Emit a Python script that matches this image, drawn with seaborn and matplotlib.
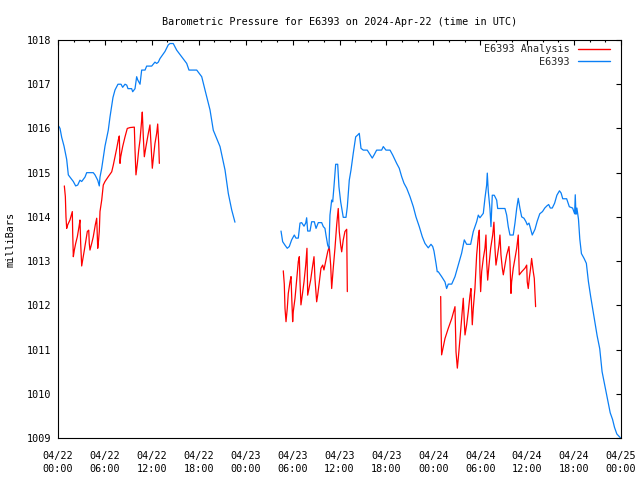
import numpy as np
import pandas as pd
import matplotlib
matplotlib.use("Agg")
import matplotlib.pyplot as plt
import matplotlib.dates as mdates
import seaborn as sns

# ------------------------------------------------------------
# data: hours since 2024-04-22 00:00 UTC, pressure in mb
# ------------------------------------------------------------
obs1_h = [0.1, 0.26, 0.47, 0.77, 1.11, 1.32, 1.53, 1.96, 2.26, 2.52, 2.81, 3.03, 3.45, 3.67,
          4.51, 4.73, 5.08, 5.28, 5.37, 5.59, 6.01, 6.43, 6.65, 7.03, 7.29, 7.67, 8.06, 8.27,
          8.57, 8.79, 8.95, 9.42, 9.55, 9.85, 10.06, 10.19, 10.49, 10.7, 11.13, 11.34, 11.98,
          12.4, 12.62, 12.83, 13.04, 13.68, 14.1, 14.32, 14.74, 15.18, 15.82, 16.46, 16.75,
          17.74, 18.38, 18.8, 19.44, 19.86, 20.72, 21.36, 21.78, 22.21, 22.63]
obs1_p = [1016.05, 1016.0, 1015.8, 1015.6, 1015.3, 1014.95, 1014.9, 1014.8, 1014.7, 1014.72,
          1014.83, 1014.8, 1014.9, 1015.0, 1015.0, 1014.95, 1014.83, 1014.7, 1014.9, 1015.1,
          1015.6, 1015.96, 1016.26, 1016.7, 1016.87, 1017.0, 1017.0, 1016.93, 1017.0, 1016.98,
          1016.9, 1016.9, 1016.83, 1016.9, 1017.17, 1017.1, 1017.0, 1017.32, 1017.32, 1017.41,
          1017.41, 1017.5, 1017.47, 1017.5, 1017.58, 1017.74, 1017.89, 1017.92, 1017.92,
          1017.77, 1017.62, 1017.47, 1017.32, 1017.32, 1017.17, 1016.87, 1016.42, 1015.96,
          1015.59, 1015.06, 1014.53, 1014.16, 1013.88]

obs2_h = [28.52, 28.73, 29.03, 29.32, 29.58, 29.88, 30.22, 30.43, 30.73, 30.95, 31.16, 31.46,
          31.68, 31.8, 31.93, 32.23, 32.44, 32.78, 33.0, 33.29, 33.72, 33.93, 34.14, 34.27,
          34.49, 34.65, 34.78, 35.0, 35.13, 35.29, 35.51, 35.77, 35.93, 36.15, 36.48, 36.83,
          37.0, 37.25, 37.47, 37.76, 38.07, 38.32, 38.53, 38.75, 39.04, 39.55, 39.9, 40.19,
          40.45, 40.75, 41.39, 41.6, 41.94, 42.46, 42.8, 43.09, 43.31, 43.64, 43.95, 44.25,
          44.59, 45.01, 45.44, 45.78, 46.2, 46.59, 46.93, 47.35, 47.7, 47.92, 48.08, 48.34,
          48.5, 48.63, 49.06, 49.49, 49.7, 49.91, 50.35, 50.77, 51.19, 51.62, 51.96, 52.26,
          52.77, 53.11, 53.54, 53.75, 53.96, 54.39, 54.6, 54.82, 54.9, 55.03, 55.24, 55.37,
          55.54, 55.79, 56.1, 56.23, 57.16, 57.38, 57.58, 57.8, 58.22, 58.44, 58.66, 58.86,
          59.08, 59.3, 59.59, 59.85, 60.01, 60.23, 60.36, 60.65, 61.0, 61.28, 61.61, 61.96,
          62.25, 62.53, 62.75, 62.96, 63.21, 63.51, 63.8, 64.13, 64.34, 64.55, 65.05, 65.39,
          65.81, 66.07, 66.15, 66.24, 66.36, 66.56, 66.73, 66.94, 67.28, 67.57, 67.83, 68.12,
          68.53, 68.95, 69.28, 69.58, 69.92, 70.33, 70.62, 70.92, 71.17, 71.47, 71.68, 71.95]
obs2_p = [1013.68, 1013.44, 1013.36, 1013.29, 1013.33, 1013.48, 1013.59, 1013.52, 1013.52,
          1013.86, 1013.87, 1013.79, 1013.86, 1013.98, 1013.68, 1013.68, 1013.89, 1013.89,
          1013.74, 1013.87, 1013.87, 1013.78, 1013.74, 1013.59, 1013.36, 1013.29, 1014.04,
          1014.38, 1014.34, 1014.68, 1015.19, 1015.19, 1014.68, 1014.34, 1013.99, 1013.99,
          1014.23, 1014.83, 1015.06, 1015.44, 1015.81, 1015.85, 1015.89, 1015.55, 1015.51,
          1015.51, 1015.41, 1015.33, 1015.41, 1015.51, 1015.51, 1015.59, 1015.51, 1015.51,
          1015.4, 1015.29, 1015.21, 1015.1, 1014.91, 1014.76, 1014.65, 1014.46, 1014.23,
          1014.0, 1013.78, 1013.55, 1013.4, 1013.3, 1013.38, 1013.33, 1013.23, 1012.95,
          1012.76, 1012.76, 1012.65, 1012.53, 1012.38, 1012.48, 1012.48, 1012.65, 1012.91,
          1013.18, 1013.48, 1013.38, 1013.38, 1013.67, 1013.89, 1014.04, 1013.98, 1014.08,
          1014.42, 1014.72, 1014.99, 1014.57, 1014.19, 1013.78, 1014.49, 1014.49, 1014.38,
          1014.19, 1014.19, 1014.04, 1013.78, 1013.59, 1013.59, 1013.86, 1014.19, 1014.42,
          1014.19, 1014.0, 1013.97, 1013.89, 1013.82, 1013.86, 1013.78, 1013.59, 1013.72,
          1013.9, 1014.07, 1014.12, 1014.2, 1014.25, 1014.28, 1014.2, 1014.2, 1014.31,
          1014.49, 1014.59, 1014.54, 1014.41, 1014.41, 1014.23, 1014.2, 1014.07, 1014.5,
          1014.06, 1014.2, 1013.95, 1013.5, 1013.17, 1013.06, 1012.95, 1012.54, 1012.2,
          1011.76, 1011.31, 1011.02, 1010.5, 1010.2, 1009.83, 1009.57, 1009.42, 1009.24,
          1009.09, 1009.05, 1009.0]

ana1_h = [0.81, 0.94, 1.02, 1.11, 1.24, 1.53, 1.83, 1.88, 1.96, 2.09, 2.26, 2.47, 2.69, 2.81,
          2.9, 3.03, 3.16, 3.37, 3.58, 3.75, 3.93, 4.0, 4.09, 4.31, 4.51, 4.77, 4.95, 5.08,
          5.15, 5.28, 5.37, 5.59, 5.79, 6.01, 6.43, 6.87, 7.07, 7.29, 7.51, 7.71, 7.84, 7.93,
          8.02, 8.27, 8.57, 8.86, 9.21, 9.76, 9.85, 9.97, 10.15, 10.32, 10.49, 10.7, 10.78,
          10.91, 11.04, 11.25, 11.55, 11.76, 11.89, 12.06, 12.19, 12.4, 12.62, 12.75, 12.88,
          12.96]
ana1_p = [1014.7, 1014.46, 1014.0, 1013.74, 1013.82, 1013.93, 1014.12, 1013.63, 1013.1,
          1013.25, 1013.4, 1013.55, 1013.78, 1013.93, 1013.4, 1012.89, 1013.03, 1013.25,
          1013.48, 1013.67, 1013.7, 1013.4, 1013.25, 1013.4, 1013.55, 1013.82, 1013.97,
          1013.29, 1013.4, 1013.67, 1014.12, 1014.38, 1014.72, 1014.8, 1014.91, 1015.02,
          1015.17, 1015.36, 1015.55, 1015.74, 1015.83, 1015.21, 1015.36, 1015.59, 1015.81,
          1016.0, 1016.02, 1016.03, 1015.51, 1014.95, 1015.21, 1015.51, 1015.74, 1016.19,
          1016.37, 1015.81, 1015.36, 1015.59, 1015.89, 1016.08, 1015.66, 1015.1, 1015.32,
          1015.66, 1015.89, 1016.1, 1015.66, 1015.21]

ana2_h = [28.81, 28.94, 29.03, 29.16, 29.32, 29.45, 29.67, 29.8, 29.88, 30.01, 30.09, 30.31,
          30.52, 30.73, 30.86, 30.95, 31.07, 31.24, 31.46, 31.68, 31.84, 31.93, 32.1, 32.31,
          32.52, 32.74, 32.86, 33.08, 33.21, 33.42, 33.63, 33.85, 34.01, 34.23, 34.49, 34.69,
          34.87, 35.0, 35.2, 35.42, 35.64, 35.84, 35.97, 36.15, 36.28, 36.48, 36.7, 36.92, 37.0]
ana2_p = [1012.78, 1012.48, 1011.93, 1011.63, 1011.93, 1012.27, 1012.53, 1012.65, 1012.23,
          1011.63, 1011.86, 1012.16, 1012.57, 1012.99, 1013.1, 1012.53, 1012.01, 1012.23,
          1012.53, 1012.91, 1013.29, 1012.23, 1012.38, 1012.57, 1012.84, 1013.1, 1012.61,
          1012.08, 1012.23, 1012.53, 1012.84, 1012.91, 1012.8, 1012.99, 1013.21, 1013.33,
          1012.91, 1012.38, 1012.84, 1013.29, 1013.82, 1014.19, 1013.67, 1013.36, 1013.21,
          1013.48, 1013.67, 1013.72, 1012.31]

ana3_h = [48.94, 48.98, 49.06, 49.27, 49.49, 49.91, 50.35, 50.77, 50.9, 51.07, 51.19, 51.41,
          51.62, 51.83, 51.96, 52.05, 52.26, 52.47, 52.69, 52.81, 52.98, 53.11, 53.32, 53.54,
          53.75, 53.88, 53.96, 54.05, 54.18, 54.39, 54.6, 54.73, 54.82, 54.95, 55.12, 55.33,
          55.59, 55.75, 55.88, 56.01, 56.18, 56.39, 56.52, 56.65, 56.82, 56.95, 57.16, 57.38,
          57.67, 57.8, 57.93, 58.01, 58.22, 58.44, 58.66, 58.86, 58.99, 59.3, 59.72, 59.94,
          60.01, 60.14, 60.27, 60.44, 60.57, 60.78, 60.91, 61.08]
ana3_p = [1012.2, 1011.56, 1010.88, 1011.06, 1011.25, 1011.48, 1011.7, 1011.97, 1010.95,
          1010.58, 1010.8, 1011.25, 1011.7, 1012.16, 1011.63, 1011.33, 1011.56, 1011.86,
          1012.23, 1012.38, 1011.56, 1011.93, 1012.38, 1013.14, 1013.55, 1013.7, 1012.76,
          1012.31, 1012.76, 1013.06, 1013.29, 1013.59, 1012.99, 1012.57, 1012.91, 1013.29,
          1013.59, 1013.88, 1013.29, 1012.91, 1013.1, 1013.36, 1013.59, 1013.14, 1012.84,
          1012.69, 1012.91, 1013.14, 1013.33, 1012.99, 1012.27, 1012.53, 1012.84, 1013.06,
          1013.29, 1013.59, 1012.69, 1012.76, 1012.84, 1012.91, 1012.53, 1012.38, 1012.61,
          1012.84, 1013.06, 1012.76, 1012.61, 1011.97]

start = pd.Timestamp("2024-04-22 00:00")
y_ticks = list(range(1009, 1019))

RED = "#ff0000"
BLUE = "#0a7ff5"

# ------------------------------------------------------------
# figure
# ------------------------------------------------------------
sns.set_theme(style="white")
plt.rcParams["font.family"] = ["DejaVu Sans Mono"]
FS = 7.3

fig = plt.figure(figsize=(6.4, 4.8), dpi=100)
ax = fig.add_axes([58 / 640, 42 / 480, 563 / 640, 398 / 480])


def to_time(hours):
    return start + pd.to_timedelta(np.array(hours), unit="h")


segments = [
    (ana1_h, ana1_p, RED, "E6393 Analysis"),
    (ana2_h, ana2_p, RED, None),
    (ana3_h, ana3_p, RED, None),
    (obs1_h, obs1_p, BLUE, "E6393"),
    (obs2_h, obs2_p, BLUE, None),
]
for hh, pp, col, lab in segments:
    seg = pd.DataFrame({"time": to_time(hh), "p": pp})
    sns.lineplot(data=seg, x="time", y="p", color=col, lw=0.9, ax=ax,
                 label=lab, sort=False, legend=False)

ax.set_xlim(start, start + pd.Timedelta(hours=72))
ax.set_ylim(1009, 1018)
ax.set_yticks(y_ticks)
ax.set_yticklabels([str(v) for v in y_ticks])

ax.xaxis.set_major_locator(mdates.HourLocator(byhour=range(0, 24, 6)))
ax.xaxis.set_minor_locator(mdates.HourLocator(interval=2))
ax.xaxis.set_major_formatter(mdates.DateFormatter("%m/%d\n%H:%M"))

ax.tick_params(axis="both", which="both", direction="in", top=True, right=True,
               color="black", width=0.8, labelsize=FS, labelcolor="black")
ax.tick_params(axis="both", which="major", length=3.3)
ax.tick_params(axis="both", which="minor", length=1.7)
ax.tick_params(axis="x", which="major", pad=9)
ax.tick_params(axis="y", which="major", pad=4.5)
for lbl in ax.get_xticklabels():
    lbl.set_linespacing(1.45)

for sp in ax.spines.values():
    sp.set_visible(True)
    sp.set_color("black")
    sp.set_linewidth(0.8)

ax.set_xlabel("")
ax.set_ylabel("milliBars", fontsize=FS, color="black")
ax.yaxis.set_label_coords(-0.076, 0.5)
ax.set_title("Barometric Pressure for E6393 on 2024-Apr-22 (time in UTC)",
             fontsize=FS, color="black", pad=11)

leg = ax.legend(loc="upper right", bbox_to_anchor=(1.0, 1.0 + 7 / 398),
                frameon=False, markerfirst=False, fontsize=FS,
                handlelength=3.1, handletextpad=0.9, labelspacing=0.25,
                borderaxespad=0.9, borderpad=0.2)
for line in leg.get_lines():
    line.set_linewidth(1.0)

fig.savefig("out.png", dpi=100)
